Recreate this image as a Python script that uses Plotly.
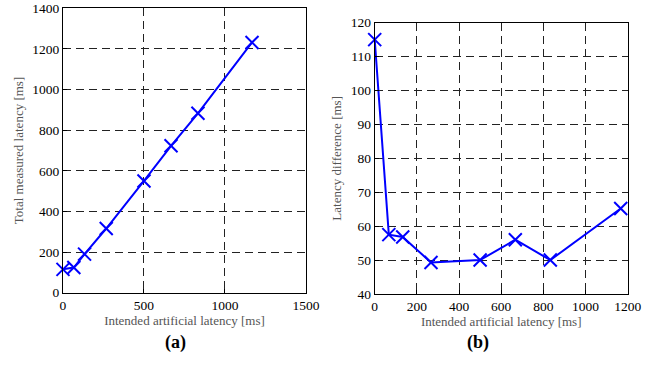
import plotly.graph_objects as go

intended = [0, 67, 133, 267, 500, 667, 833, 1167]
measured = [115, 124, 190, 316, 550, 723, 883, 1232]
difference = [115, 57.5, 56.8, 49.3, 50.0, 56.0, 50.0, 65.2]

BLUE = "#0000ff"
FONT = "Liberation Serif, DejaVu Serif, serif"

fig = go.Figure()
mk = dict(symbol="x-thin", size=13, color=BLUE, line=dict(width=2, color=BLUE))
fig.add_trace(go.Scatter(x=intended, y=measured, mode="lines+markers",
                         line=dict(color=BLUE, width=2), marker=mk,
                         xaxis="x", yaxis="y", showlegend=False, cliponaxis=False))
fig.add_trace(go.Scatter(x=intended, y=difference, mode="lines+markers",
                         line=dict(color=BLUE, width=2), marker=mk,
                         xaxis="x2", yaxis="y2", showlegend=False, cliponaxis=False))

ax = dict(showline=True, linecolor="black", linewidth=1, mirror=True,
          ticks="inside", ticklen=4, tickcolor="black", automargin=False,
          showgrid=True, gridcolor="#222222", gridwidth=1, griddash="8px,5px",
          zeroline=False, tickfont=dict(family=FONT, size=13.5, color="black"),
          title_font=dict(family=FONT, size=13, color="#555555"))

fig.update_layout(
    width=652, height=369, margin=dict(l=0, r=0, t=0, b=0, autoexpand=False),
    paper_bgcolor="white", plot_bgcolor="white",
    xaxis=dict(ax, domain=[0.0966, 0.4693], range=[0, 1500], dtick=500,
               anchor="y", title=dict(text="Intended artificial latency [ms]", standoff=2)),
    yaxis=dict(ax, domain=[0.2068, 0.9775], range=[0, 1400], dtick=200,
               anchor="x", title=dict(text="Total measured latency [ms]", standoff=5)),
    xaxis2=dict(ax, domain=[0.5747, 0.9627], range=[0, 1200], dtick=200,
                anchor="y2", title=dict(text="Intended artificial latency [ms]", standoff=2)),
    yaxis2=dict(ax, domain=[0.2033, 0.9385], range=[40, 120], dtick=10,
                anchor="x2", title=dict(text="Latency difference [ms]", standoff=6)),
    annotations=[
        dict(text="<b>(a)</b>", x=163/652, y=1-355/369, xref="paper", yref="paper",
             showarrow=False, font=dict(family=FONT, size=18, color="black")),
        dict(text="<b>(b)</b>", x=491/652, y=1-355/369, xref="paper", yref="paper",
             showarrow=False, font=dict(family=FONT, size=18, color="black")),
    ],
)

fig.write_html("out.html")
